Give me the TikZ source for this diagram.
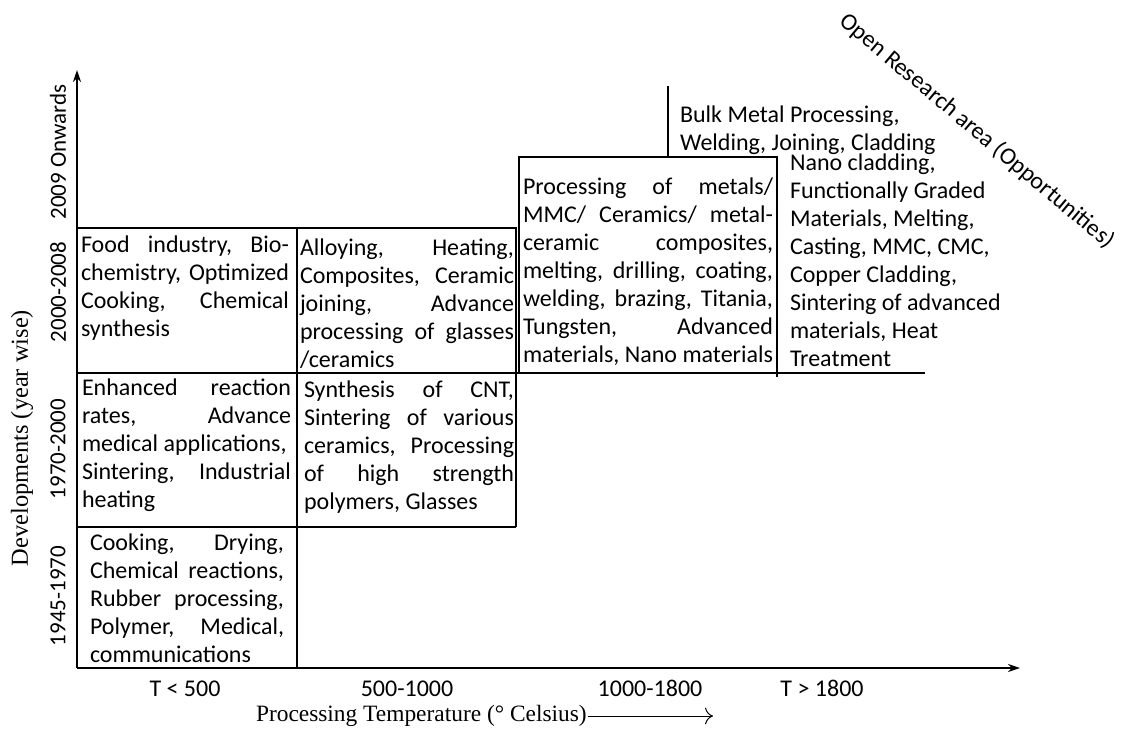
\documentclass[tikz,border=0pt]{standalone}
\usepackage{fontspec}
\setmainfont{Carlito}
\newfontfamily\timesfont{Liberation Serif}
\usetikzlibrary{arrows.meta}
\newcommand{\cellfont}{\fontsize{12}{14}\selectfont}
\newcommand{\plainsp}{\frenchspacing\spaceskip=0pt\xspaceskip=0pt}
\newcommand{\jl}[1]{\makebox[\hsize][s]{\plainsp\strut #1}\\}
\newcommand{\pl}[1]{{\plainsp\strut #1}\\}
\begin{document}
\begin{tikzpicture}[x=0.5pt,y=-0.5pt,line width=1pt,
	cell/.style = {anchor=north west, inner sep=0pt, align=left, font=\cellfont},
	year/.style = {rotate=90, inner sep=0pt, font=\fontsize{11.5}{14}\selectfont},
	temp/.style = {anchor=base, inner sep=0pt, font=\cellfont},
	serif/.style = {inner sep=0pt, font=\timesfont\fontsize{11.7}{14}\selectfont}]
	\useasboundingbox (0,0) rectangle (1122,734);
	\coordinate (o) at (77,668);
	\coordinate (ytip) at (77,70);
	\coordinate (xtip) at (1020,668);
	\draw[-{Stealth[length=6pt,width=4pt]}] (o) -- (ytip);
	\draw[-{Stealth[length=6pt,width=4pt]}] (o) -- (xtip);
	
	% boxes
	\draw (77,228) -- (516,228) -- (516,527);
	\draw (77,373) -- (925,373);
	\draw (77,527) -- (516,527);
	\draw (297,228) -- (297,668);
	\draw (519,373) -- (519,157) -- (777,157) -- (777,377);
	\draw (668,86) -- (668,157);
	
	\node[cell,text width=104pt] (food) at (80,232) {\jl{Food industry, Bio-}\jl{chemistry, Optimized}\jl{Cooking, Chemical}\pl{synthesis}};
	\node[cell,text width=107pt] (alloy) at (299,235) {\jl{Alloying, Heating,}\jl{Composites, Ceramic}\jl{joining, Advance}\jl{processing of glasses}\pl{/ceramics}};
	\node[cell,text width=104.5pt] (enhanced) at (81,375) {\jl{Enhanced reaction}\jl{rates, Advance}\pl{medical applications,}\jl{Sintering, Industrial}\pl{heating}};
	\node[cell,text width=105pt] (cnt) at (303,377) {\jl{Synthesis of CNT,}\jl{Sintering of various}\jl{ceramics, Processing}\jl{of high strength}\pl{polymers, Glasses}};
	\node[cell,text width=97pt] (cooking) at (89,530) {\jl{Cooking, Drying,}\jl{Chemical reactions,}\jl{Rubber processing,}\jl{Polymer, Medical,}\pl{communications}};
	\node[cell,text width=125pt] (metals) at (522,174) {\jl{Processing of metals/}\jl{MMC/ Ceramics/ metal-}\jl{ceramic composites,}\jl{melting, drilling, coating,}\jl{welding, brazing, Titania,}\jl{Tungsten, Advanced}\pl{materials, Nano materials}};
	\node[cell] (bulk) at (679,102) {\pl{Bulk Metal Processing,}\pl{Welding, Joining, Cladding}};
	\node[cell] (nano) at (789,150) {\pl{Nano cladding,}\pl{Functionally Graded}\pl{Materials, Melting,}\pl{Casting, MMC, CMC,}\pl{Copper Cladding,}\pl{Sintering of advanced}\pl{materials, Heat}\pl{Treatment}};
	\node[rotate=-40,inner sep=0pt,font=\cellfont] (open) at (977,131) {Open Research area (Opportunities)};
	
	% axis labels
	\node[year] (y2009) at (58,152) {2009 Onwards};
	\node[year] (y2000) at (58,292) {2000-2008};
	\node[year] (y1970) at (58,449) {1970-2000};
	\node[year] (y1945) at (58,596) {1945-1970};
	\node[serif,rotate=90,font=\timesfont\fontsize{12.2}{14}\selectfont] (devel) at (22,438) {Developments (year wise)};
	\node[temp] (t500) at (185,696) {T < 500};
	\node[temp] (t1000) at (407,696) {500-1000};
	\node[temp] (t1800) at (650,696) {1000-1800};
	\node[temp] (tmax) at (822,696) {T > 1800};
	\node[serif,anchor=west] (ptemp) at (255,716) {Processing Temperature (° Celsius)};
	\coordinate (ptip) at (713,716);
	\draw[-{To[length=4pt]},line width=0.5pt] (ptemp.east) -- (ptip);
\end{tikzpicture}
\end{document}
